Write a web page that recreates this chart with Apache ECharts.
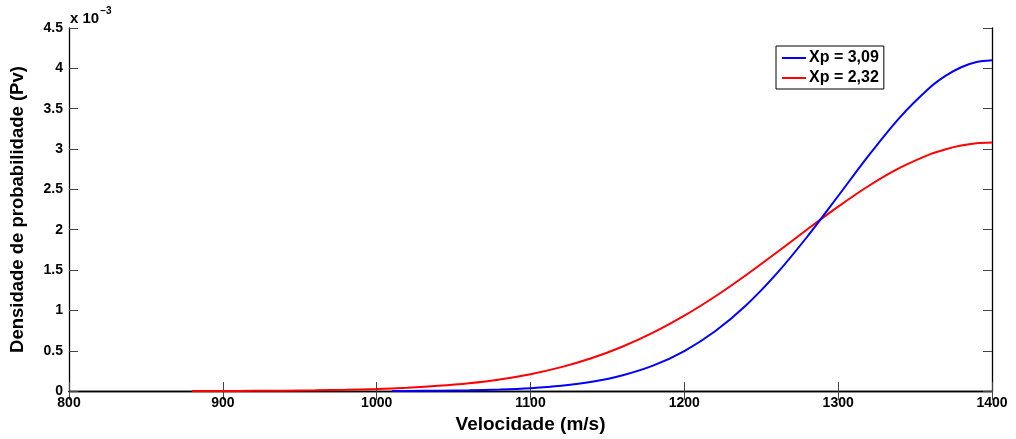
<!DOCTYPE html>
<html>
<head>
<meta charset="utf-8">
<script src="https://cdn.jsdelivr.net/npm/echarts@6/dist/echarts.min.js"></script>
<style>
  html, body { margin: 0; padding: 0; background: #fff; }
  #chart { width: 1016px; height: 439px; }
</style>
</head>
<body>
<div id="chart"></div>
<script>
// Velocity samples (m/s) and probability density (x 10^-3) for each curve
const redVel = [880, 900, 920, 940, 960, 980, 1000, 1020, 1040, 1060, 1080, 1100, 1120, 1140, 1160, 1180, 1200, 1220, 1240, 1260, 1280, 1300, 1320, 1340, 1360, 1370, 1380, 1390, 1400];
const redPv  = [0.001, 0.0018, 0.0032, 0.0056, 0.0096, 0.016, 0.026, 0.042, 0.065, 0.098, 0.145, 0.21, 0.297, 0.41, 0.553, 0.727, 0.934, 1.172, 1.436, 1.717, 2.005, 2.286, 2.545, 2.766, 2.937, 2.998, 3.043, 3.071, 3.08];

const blueVel = [1010, 1020, 1040, 1060, 1080, 1100, 1120, 1140, 1160, 1180, 1200, 1220, 1240, 1260, 1280, 1300, 1320, 1340, 1360, 1370, 1380, 1390, 1400];
const bluePv  = [0.0013, 0.002, 0.0044, 0.0091, 0.0184, 0.0354, 0.065, 0.115, 0.196, 0.318, 0.496, 0.741, 1.061, 1.456, 1.916, 2.418, 2.924, 3.39, 3.768, 3.91, 4.014, 4.078, 4.1];

const seriesNames = ['Xp = 3,09', 'Xp = 2,32'];
const xTicks = { min: 800, max: 1400, step: 100 };
const yTicks = { min: 0, max: 4.5, step: 0.5 };

const pairs = (xs, ys) => xs.map((x, i) => [x, ys[i]]);

const font = '"Liberation Sans", Arial, Helvetica, sans-serif';
const tickStyle = { show: true, inside: true, length: 9, lineStyle: { color: '#444', width: 1 } };
const lineStyle = { color: '#000', width: 1.3 };

const chart = echarts.init(document.getElementById('chart'), null, { renderer: 'canvas' });

chart.setOption({
  animation: false,
  backgroundColor: '#fff',
  grid: { left: 68, right: 24, top: 28, bottom: 46, containLabel: false },
  xAxis: [
    {
      type: 'value', min: xTicks.min, max: xTicks.max, interval: xTicks.step,
      name: 'Velocidade (m/s)', nameLocation: 'middle', nameGap: 23,
      nameTextStyle: { fontFamily: font, fontWeight: 'bold', fontSize: 19, color: '#000' },
      axisLine: { show: true, lineStyle },
      axisTick: tickStyle,
      axisLabel: { fontFamily: font, fontWeight: 'bold', fontSize: 14, color: '#000', margin: 5,
                   showMaxLabel: true, showMinLabel: true, formatter: v => String(v) },
      splitLine: { show: false }
    },
    {
      type: 'value', position: 'top', min: xTicks.min, max: xTicks.max, interval: xTicks.step,
      axisLine: { show: true, lineStyle },
      axisTick: tickStyle,
      axisLabel: { show: false },
      splitLine: { show: false }
    }
  ],
  yAxis: [
    {
      type: 'value', min: yTicks.min, max: yTicks.max, interval: yTicks.step,
      name: 'Densidade de probabilidade (Pv)', nameLocation: 'middle', nameGap: 42,
      nameTextStyle: { fontFamily: font, fontWeight: 'bold', fontSize: 18.5, color: '#000' },
      axisLine: { show: true, lineStyle },
      axisTick: tickStyle,
      axisLabel: { fontFamily: font, fontWeight: 'bold', fontSize: 14, color: '#000', margin: 6 },
      splitLine: { show: false }
    },
    {
      type: 'value', position: 'right', min: yTicks.min, max: yTicks.max, interval: yTicks.step,
      axisLine: { show: true, lineStyle },
      axisTick: tickStyle,
      axisLabel: { show: false },
      splitLine: { show: false }
    }
  ],
  legend: {
    orient: 'vertical',
    left: 776, top: 46,
    padding: [4, 5, 3, 6],
    itemGap: 4,
    itemWidth: 24, itemHeight: 16,
    backgroundColor: '#fff',
    borderColor: '#000', borderWidth: 1,
    textStyle: { fontFamily: font, fontWeight: 'bold', fontSize: 16, color: '#000', padding: [0, 0, 0, -2] },
    data: seriesNames.map(n => ({ name: n, icon: 'path://M0,0 L24,0 L24,2 L0,2 Z' }))
  },
  graphic: [
    {
      type: 'text', left: 70, top: 6,
      style: {
        text: '{b|x 10}{s|−3}',
        rich: {
          b: { fontFamily: font, fontWeight: 'bold', fontSize: 15, fill: '#000', padding: [8, 1, 0, 0] },
          s: { fontFamily: font, fontWeight: 'bold', fontSize: 10, fill: '#000', padding: [0, 0, 8, 0] }
        }
      }
    }
  ],
  series: [
    {
      name: seriesNames[1], type: 'line', data: pairs(redVel, redPv),
      smooth: 0.3, showSymbol: false, symbol: 'none',
      lineStyle: { color: '#ff0000', width: 2 }, itemStyle: { color: '#ff0000' }, z: 2
    },
    {
      name: seriesNames[0], type: 'line', data: pairs(blueVel, bluePv),
      smooth: 0.3, showSymbol: false, symbol: 'none',
      lineStyle: { color: '#0000ff', width: 2 }, itemStyle: { color: '#0000ff' }, z: 3
    }
  ]
});
</script>
</body>
</html>
